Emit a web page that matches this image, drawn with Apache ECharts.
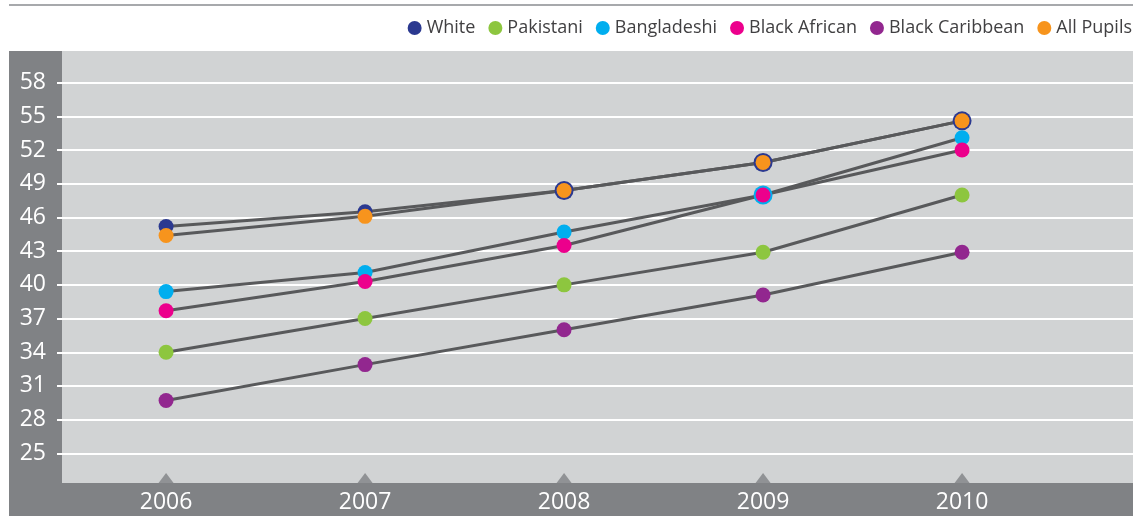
<!DOCTYPE html>
<html>
<head>
<meta charset="utf-8">
<script src="https://cdn.jsdelivr.net/npm/echarts@6/dist/echarts.min.js"></script>
<style>
  html, body { margin: 0; padding: 0; background: #ffffff; }
  #chart { width: 1138px; height: 516px; }
</style>
</head>
<body>
<div id="chart"></div>
<script>
// Years on the horizontal axis
const years = [2006, 2007, 2008, 2009, 2010];
// Tick labels on the vertical axis
const yTicks = [25, 28, 31, 34, 37, 40, 43, 46, 49, 52, 55, 58];

// Scores per pupil group, one value per year
const white          = [45.2, 46.5, 48.4, 50.9, 54.6];
const pakistani      = [34.0, 37.0, 40.0, 42.9, 48.0];
const bangladeshi    = [39.4, 41.1, 44.7, 48.0, 53.1];
const blackAfrican   = [37.7, 40.3, 43.5, 48.0, 52.0];
const blackCaribbean = [29.7, 32.9, 36.0, 39.1, 42.9];
const allPupils      = [44.4, 46.1, 48.4, 50.9, 54.6];

const groups = [
  { name: 'White',           values: white,          color: '#2b3990' },
  { name: 'Pakistani',       values: pakistani,      color: '#8dc63f' },
  { name: 'Bangladeshi',     values: bangladeshi,    color: '#00aeef' },
  { name: 'Black African',   values: blackAfrican,   color: '#ec008c' },
  { name: 'Black Caribbean', values: blackCaribbean, color: '#92278f' },
  { name: 'All Pupils',      values: allPupils,      color: '#f7941d' }
];

const FONT = '"Open Sans", "DejaVu Sans", sans-serif';
const Y_MIN = 22.36, Y_MAX = 60.82;
const X_MIN = 2005.477, X_MAX = 2010.859;

// A dot that shares its value with a dot drawn later gets a slightly larger
// size, so it shows as a ring around the one on top.
function dotSize(gi, idx) {
  const v = groups[gi].values[idx];
  for (let k = gi + 1; k < groups.length; k++) {
    if (groups[k].values[idx] === v) return 19;
  }
  return 15;
}

const lineSeries = groups.map((g, gi) => ({
  type: 'line',
  name: g.name + ' trend',
  data: years.map((yr, i) => [yr, g.values[i]]),
  symbol: 'none',
  silent: true,
  z: 2,
  lineStyle: { color: '#58595b', width: 3 },
  itemStyle: { color: '#58595b' }
}));

const dotSeries = groups.map((g, gi) => ({
  type: 'scatter',
  name: g.name,
  data: years.map((yr, i) => [yr, g.values[i]]),
  symbol: 'circle',
  symbolSize: (val, p) => dotSize(gi, p.dataIndex),
  z: 3 + gi,
  itemStyle: { color: g.color, opacity: 1 }
}));

// Small pointers under each year on the bottom edge of the plot
const pointerSeries = {
  type: 'scatter',
  name: 'year pointers',
  data: years.map(yr => [yr, Y_MIN]),
  symbol: 'triangle',
  symbolSize: [15, 10],
  symbolOffset: [0, -5],
  silent: true,
  clip: false,
  z: 1,
  itemStyle: { color: '#808285' }
};

const chart = echarts.init(document.getElementById('chart'), null, { renderer: 'canvas' });
chart.setOption({
  animation: false,
  backgroundColor: '#ffffff',
  textStyle: { fontFamily: FONT },
  graphic: [
    { type: 'line', z: -10, shape: { x1: 9, y1: 5, x2: 1133, y2: 5 },
      style: { stroke: '#a7a9ac', lineWidth: 2 } },
    { type: 'rect', z: -10, shape: { x: 9, y: 51, width: 1124, height: 465 },
      style: { fill: '#808285' } }
  ],
  legend: {
    right: 1,
    top: 14,
    itemWidth: 14,
    itemHeight: 14,
    itemGap: 13,
    icon: 'circle',
    textStyle: { fontFamily: FONT, fontSize: 18, color: '#414042' },
    data: groups.map(g => ({ name: g.name, icon: 'circle', itemStyle: { color: g.color, borderWidth: 0 } }))
  },
  grid: {
    left: 62, right: 5, top: 51, bottom: 33,
    show: true, backgroundColor: '#d1d3d4', borderWidth: 0
  },
  xAxis: {
    type: 'value',
    min: X_MIN, max: X_MAX,
    axisLine: { show: false },
    axisTick: { show: false },
    splitLine: { show: false },
    axisLabel: {
      customValues: years,
      formatter: v => String(v),
      color: '#ffffff', fontSize: 23, fontFamily: FONT, margin: 8
    }
  },
  yAxis: {
    type: 'value',
    min: Y_MIN, max: Y_MAX,
    axisLine: { show: false },
    axisTick: { show: true, customValues: yTicks, length: 5, lineStyle: { color: '#ffffff', width: 2 } },
    splitLine: { show: true, lineStyle: { color: '#ffffff', width: 2 } },
    axisLabel: {
      customValues: yTicks,
      color: '#ffffff', fontSize: 23, fontFamily: FONT, margin: 16
    }
  },
  series: [pointerSeries].concat(lineSeries, dotSeries)
});
</script>
</body>
</html>
